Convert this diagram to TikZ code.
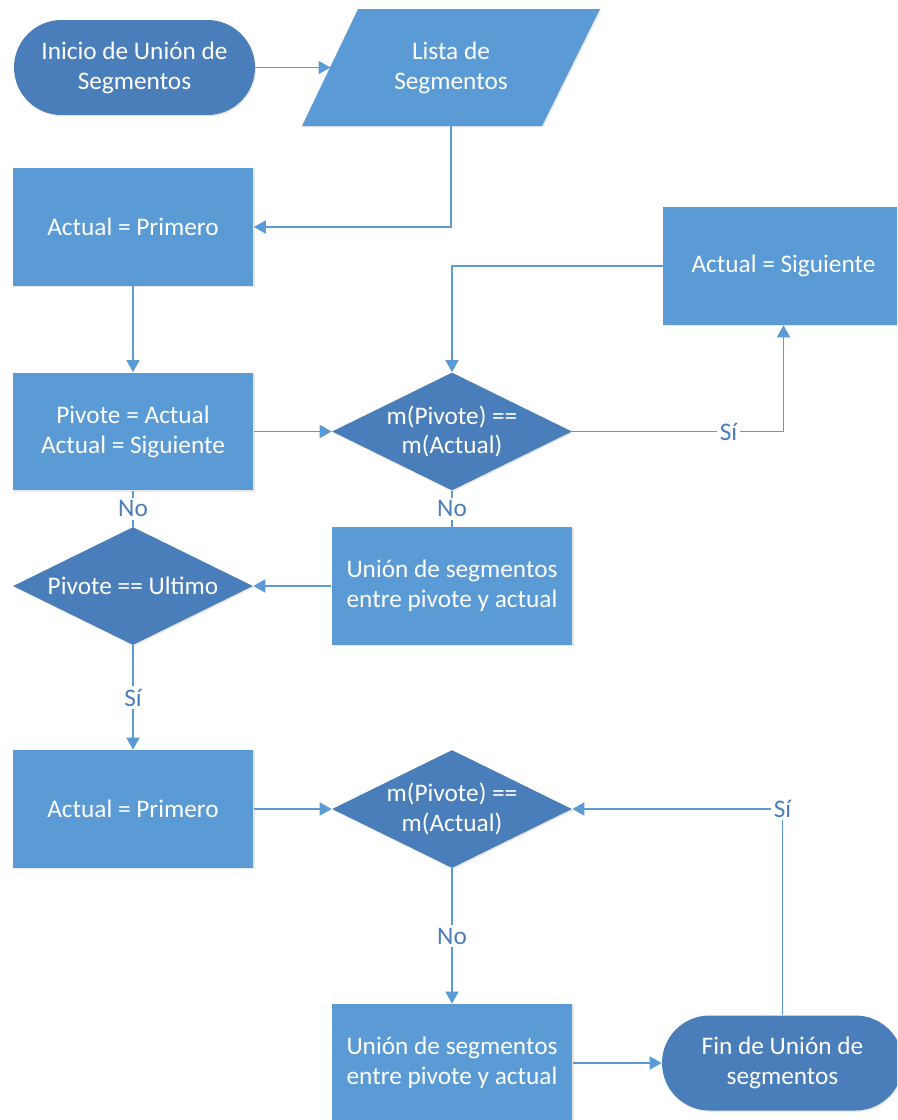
\documentclass[tikz,border=0pt]{standalone}
\usepackage{fontspec}
\setmainfont{Carlito}
\usetikzlibrary{shapes.geometric,arrows.meta,shadows}

\definecolor{boxblue}{HTML}{5B9BD5}
\definecolor{darkblue}{HTML}{4A7EBB}
\definecolor{lineblue}{HTML}{5B9BD5}

\tikzset{
  base/.style={text=white, align=center, inner sep=0pt,
    font=\fontsize{14.4pt}{17pt}\selectfont,
    drop shadow={shadow xshift=0.6pt, shadow yshift=-0.8pt, opacity=0.18}},
  procbox/.style={base, rectangle, fill=boxblue,
    minimum width=4.82cm, minimum height=2.36cm},
  termbox/.style={base, rectangle, fill=darkblue, rounded corners=0.95cm,
    minimum width=4.82cm, minimum height=1.9cm},
  decbox/.style={base, diamond, fill=darkblue, aspect=2,
    minimum width=4.8cm, minimum height=2.36cm},
  conn/.style={draw=lineblue, line width=1pt},
  arr/.style={conn, -{Triangle[length=0.24cm, width=0.26cm]}},
  lbl/.style={fill=white, text=darkblue, inner sep=1.5pt,
    font=\fontsize{14.4pt}{17pt}\selectfont}
}

\begin{document}
\begin{tikzpicture}[x=0.02cm, y=-0.02cm]
  \useasboundingbox (0,0) rectangle (897,1120);
  \clip (0,0) rectangle (897,1120);

  % start terminator
  \node[termbox] (start) at (134.5,67.5) {Inicio de Unión de\\Segmentos};

  % input parallelogram
  \fill[boxblue, drop shadow={shadow xshift=0.6pt, shadow yshift=-0.8pt, opacity=0.18}]
    (358,9) -- (600,9) -- (542,126) -- (302,126) -- cycle;
  \node[text=white, align=center, font=\fontsize{14.4pt}{17pt}\selectfont]
    (lista) at (451,67.5) {Lista de\\Segmentos};
  \coordinate (listaW) at (330.5,67.5);
  \coordinate (listaS) at (451,126);

  % process boxes and decisions
  \node[procbox] (box1)   at (133,227)   {Actual = Primero};
  \node[procbox] (sig)    at (783.5,266) {Actual = Siguiente};
  \node[procbox] (box2)   at (133,431.5) {Pivote = Actual\\Actual = Siguiente};
  \node[decbox]  (dec1)   at (452,431.5) {m(Pivote) ==\\m(Actual)};
  \node[procbox] (union1) at (452,586)   {Unión de segmentos\\entre pivote y actual};
  \node[decbox]  (dec2)   at (133,586)   {Pivote == Ultimo};
  \node[procbox] (box3)   at (133,809)   {Actual = Primero};
  \node[decbox]  (dec3)   at (452,809)   {m(Pivote) ==\\m(Actual)};
  \node[procbox] (union2) at (452,1063)  {Unión de segmentos\\entre pivote y actual};
  \node[termbox] (fin)    at (782.5,1063) {Fin de Unión de\\segmentos};

  % connectors
  \draw[arr] (start.east) -- (listaW);
  \draw[arr] (listaS) |- (box1.east);
  \draw[arr] (box1.south) -- (box2.north);
  \draw[arr] (box2.east) -- (dec1.west);
  \draw[arr] (dec1.east) -| node[lbl, pos=0.37] {Sí} (sig.south);
  \draw[arr] (sig.west) -| (dec1.north);
  \draw[conn] (dec1.south) -- node[lbl] {No} (union1.north);
  \draw[arr] (union1.west) -- (dec2.east);
  \draw[conn] (dec2.north) -- node[lbl] {No} (box2.south);
  \draw[arr] (dec2.south) -- node[lbl] {Sí} (box3.north);
  \draw[arr] (box3.east) -- (dec3.west);
  \draw[arr] (dec3.south) -- node[lbl] {No} (union2.north);
  \draw[arr] (union2.east) -- (fin.west);
  \draw[arr] (fin.north) |- node[lbl, pos=0.5] {Sí} (dec3.east);
\end{tikzpicture}
\end{document}
